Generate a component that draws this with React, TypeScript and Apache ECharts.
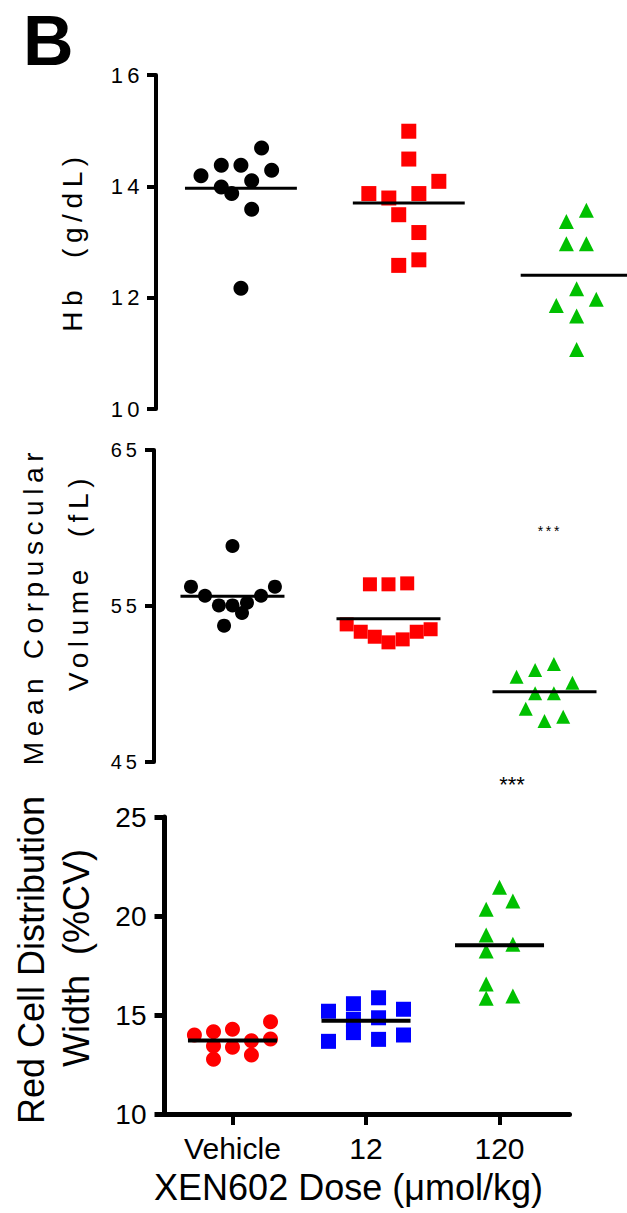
import React, { useEffect, useRef } from 'react';
import * as echarts from 'echarts';

const FONT = '"Liberation Sans", Arial, Helvetica, sans-serif';

const categories = ['Vehicle', '12', '120'];

// Panel 1: Hb (g/dL)
const hbTicks = [10, 12, 14, 16];
const hbVehicle = [14.19, 14.38, 14.38, 14.69, 14.29, 14.1, 13.99, 13.87, 13.59, 12.17];
const hbVehicleJitter = [-0.238, -0.117, 0, 0.123, 0.183, 0.064, -0.117, -0.055, 0.064, 0];
const hb12 = [14.99, 14.49, 14.09, 13.87, 13.87, 13.79, 13.49, 13.17, 12.68, 12.58];
const hb12Jitter = [0, 0, 0.179, -0.238, 0.06, -0.119, -0.06, 0.06, 0.06, -0.06];
const hb120 = [13.57, 13.37, 12.97, 12.97, 12.16, 11.97, 11.86, 11.67, 11.07];
const hb120Jitter = [0.058, -0.061, -0.061, 0.058, 0, 0.117, -0.121, 0, 0];

// Panel 2: Mean Corpuscular Volume (fL)
const mcvTicks = [45, 55, 65];
const mcvVehicle = [58.85, 56.24, 56.24, 55.66, 55.66, 55.04, 55.04, 55.21, 54.55, 53.74];
const mcvVehicleJitter = [0, -0.266, 0.272, -0.176, 0.183, -0.087, 0, 0.093, 0.061, -0.054];
const mcv12 = [56.39, 56.39, 56.45, 53.82, 53.35, 53.03, 52.67, 52.86, 53.35, 53.51];
const mcv12Jitter = [-0.119, 0, 0.12, -0.268, -0.178, -0.088, 0, 0.091, 0.181, 0.27];
const mcv120 = [51.28, 50.9, 50.47, 50.08, 49.4, 49.4, 48.42, 47.9, 47.63];
const mcv120Jitter = [0.06, -0.06, -0.179, 0.179, -0.06, 0.06, -0.12, 0.12, 0];

// Panel 3: Red Cell Distribution Width (%CV)
const rdwTicks = [10, 15, 20, 25];
const rdwVehicle = [14.66, 13.99, 14.16, 14.28, 13.7, 13.79, 13.43, 13.37, 12.98, 12.76];
const rdwVehicleJitter = [0.285, -0.285, -0.142, 0, 0.142, 0.285, -0.142, 0, 0.142, -0.142];
const rdw12 = [15.87, 15.57, 15.19, 15.29, 14.86, 14.78, 14.11, 13.99, 13.77, 13.67];
const rdw12Jitter = [0.094, -0.094, -0.281, 0.281, 0.094, -0.094, -0.094, 0.281, 0.094, -0.281];
const rdw120 = [21.45, 20.76, 20.34, 19.04, 18.57, 18.23, 16.57, 15.84, 15.96];
const rdw120Jitter = [0, 0.1, -0.1, -0.1, 0.1, -0.1, -0.1, -0.1, 0.1];

const significance = '***';

const mean = (a: number[]) => a.reduce((s, v) => s + v, 0) / a.length;

function scatter(values: number[], jitter: number[], g: number, symbol: string, color: string, size: number, idx: number) {
  return {
    type: 'scatter',
    xAxisIndex: idx,
    yAxisIndex: idx,
    symbol,
    symbolSize: size,
    itemStyle: { color, opacity: 1 },
    data: values.map((v, i) => [g + jitter[i], v]),
    z: 2,
    silent: true,
  };
}

function meanLine(values: number[], g: number, width: number, idx: number) {
  const m = mean(values);
  return {
    type: 'line',
    xAxisIndex: idx,
    yAxisIndex: idx,
    data: [
      [g - 1 / 3, m],
      [g + 1 / 3, m],
    ],
    symbol: 'none',
    lineStyle: { color: '#000', width },
    clip: false,
    z: 3,
    silent: true,
  };
}

function yAxisCfg(grid: number, ticks: number[], lineW: number, tickLen: number, fontSize: number, margin: number) {
  return {
    gridIndex: grid,
    type: 'value',
    min: ticks[0],
    max: ticks[ticks.length - 1],
    axisLine: { show: true, onZero: false, lineStyle: { color: '#000', width: lineW } },
    axisTick: { show: true, length: tickLen, customValues: ticks, lineStyle: { color: '#000', width: lineW } },
    axisLabel: { customValues: ticks, color: '#000', fontSize, fontFamily: FONT, margin },
    splitLine: { show: false },
  };
}

const rotText = (text: string, x: number, y: number, fontSize: number) => ({
  type: 'text',
  x,
  y,
  rotation: Math.PI / 2,
  style: {
    text,
    fontSize,
    fontFamily: FONT,
    fill: '#000',
    textAlign: 'center',
    textVerticalAlign: 'middle',
    align: 'center',
    verticalAlign: 'middle',
  },
});

const plainText = (text: string, x: number, y: number, fontSize: number, bold = false, align = 'center') => ({
  type: 'text',
  x,
  y,
  style: {
    text,
    fontSize,
    fontWeight: bold ? 'bold' : 'normal',
    fontFamily: FONT,
    fill: '#000',
    textAlign: align,
    textVerticalAlign: 'middle',
    align,
    verticalAlign: 'middle',
  },
});

const optionA: any = {
  animation: false,
  grid: [
    { left: 156, top: 75, width: 471, height: 334 },
    { left: 154, top: 450, width: 468.5, height: 312 },
  ],
  xAxis: [
    { gridIndex: 0, type: 'value', min: 0.494, max: 3.3, show: false },
    { gridIndex: 1, type: 'value', min: 0.497, max: 3.5, show: false },
  ],
  yAxis: [yAxisCfg(0, hbTicks, 4, 9, 22, 12), yAxisCfg(1, mcvTicks, 4, 9, 20, 13)],
  series: [
    scatter(hbVehicle, hbVehicleJitter, 1, 'circle', '#000000', 15, 0),
    scatter(hb12, hb12Jitter, 2, 'rect', '#FF0000', 15, 0),
    scatter(hb120, hb120Jitter, 3, 'triangle', '#00C000', 15, 0),
    meanLine(hbVehicle, 1, 3, 0),
    meanLine(hb12, 2, 3, 0),
    meanLine(hb120, 3, 3, 0),
    scatter(mcvVehicle, mcvVehicleJitter, 1, 'circle', '#000000', 14, 1),
    scatter(mcv12, mcv12Jitter, 2, 'rect', '#FF0000', 14, 1),
    scatter(mcv120, mcv120Jitter, 3, 'triangle', '#00C000', 14, 1),
    meanLine(mcvVehicle, 1, 3, 1),
    meanLine(mcv12, 2, 3, 1),
    meanLine(mcv120, 3, 3, 1),
  ],
  graphic: [
    rotText('Hb  (g/dL)', 72.3, 241.5, 28),
    rotText('Mean Corpuscular', 33.3, 606, 28),
    rotText('Volume  (fL)', 78.3, 582, 28),
    plainText(significance, 550, 531, 14),
  ],
};

const optionB: any = {
  animation: false,
  grid: [{ left: 164.5, top: 817, width: 405, height: 297 }],
  xAxis: [
    {
      gridIndex: 0,
      type: 'value',
      min: 0.491,
      max: 3.524,
      axisLine: { show: true, onZero: false, lineStyle: { color: '#000', width: 5 } },
      axisTick: { show: true, length: 11, customValues: [1, 2, 3], lineStyle: { color: '#000', width: 4 } },
      axisLabel: {
        customValues: [1, 2, 3],
        formatter: (v: number) => categories[Math.round(v) - 1],
        color: '#000',
        fontSize: 30,
        fontFamily: FONT,
        margin: 19,
      },
      splitLine: { show: false },
    },
  ],
  yAxis: [yAxisCfg(0, rdwTicks, 5, 10, 28, 18)],
  series: [
    scatter(rdwVehicle, rdwVehicleJitter, 1, 'circle', '#FF0000', 15, 0),
    scatter(rdw12, rdw12Jitter, 2, 'rect', '#0000FF', 15, 0),
    scatter(rdw120, rdw120Jitter, 3, 'triangle', '#00C000', 15, 0),
    meanLine(rdwVehicle, 1, 4, 0),
    meanLine(rdw12, 2, 4, 0),
    meanLine(rdw120, 3, 4, 0),
  ],
  graphic: [
    plainText('B', 23, 41, 70, true, 'left'),
    rotText('Red Cell Distribution', 31, 960, 36),
    rotText('Width  (%CV)', 76, 958, 36),
    plainText('XEN602 Dose (\u03bcmol/kg)', 348.5, 1187, 36),
    plainText(significance, 512, 784, 22),
  ],
};

export default function App() {
  const refA = useRef<HTMLDivElement>(null);
  const refB = useRef<HTMLDivElement>(null);
  useEffect(() => {
    const a = echarts.init(refA.current!, null, { renderer: 'svg' });
    const b = echarts.init(refB.current!, null, { renderer: 'svg' });
    a.setOption(optionA);
    b.setOption(optionB);
    return () => {
      a.dispose();
      b.dispose();
    };
  }, []);
  return (
    <div style={{ position: 'absolute', left: 0, top: 0, width: 627, height: 1213, background: '#fff' }}>
      <style>{'.spaced text{letter-spacing:0.2em;white-space:pre}'}</style>
      <div ref={refA} className="spaced" style={{ position: 'absolute', left: 0, top: 0, width: 627, height: 1213 }} />
      <div ref={refB} style={{ position: 'absolute', left: 0, top: 0, width: 627, height: 1213 }} />
    </div>
  );
}
